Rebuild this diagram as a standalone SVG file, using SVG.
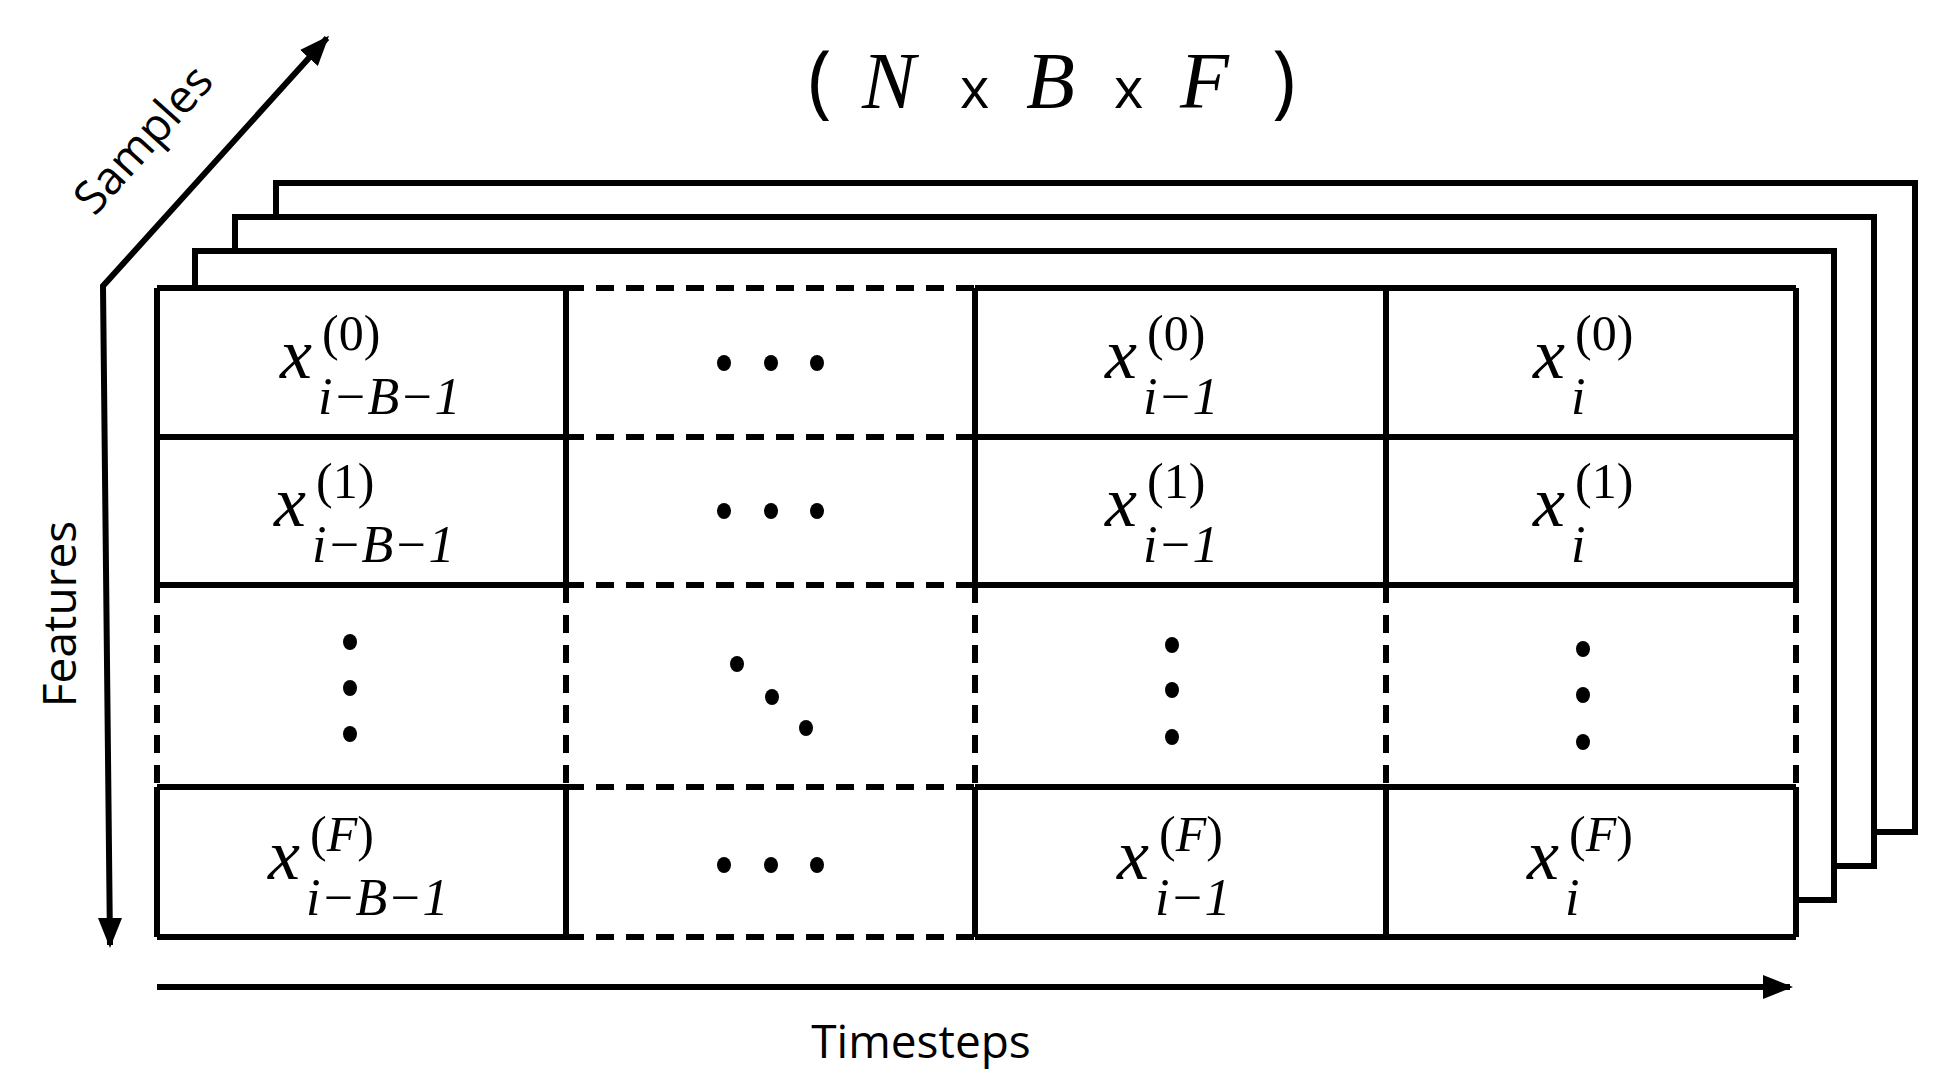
<svg xmlns="http://www.w3.org/2000/svg" width="1942" height="1083" viewBox="0 0 1942 1083">
<style>
.s{stroke:#000;stroke-width:6;fill:none}
.d{stroke:#000;stroke-width:6;fill:none;stroke-dasharray:18 12}
.f{stroke:#000;stroke-width:6;fill:#fff}
.lab{font-family:"Open Sans","Liberation Sans",sans-serif;font-size:46px;fill:#000}
.m{font-family:"Liberation Serif",serif;font-style:italic;font-size:72px;fill:#000}
.sup{font-size:50px;font-style:normal}
.sub{font-size:52px}
.dot{fill:#000}
.tp{font-family:"Open Sans",sans-serif}
.tx{font-family:"Open Sans",sans-serif;font-size:56px}
.ti{font-style:italic}
</style>
<defs>
<marker id="ah" viewBox="0 0 10 10" refX="9" refY="5" markerWidth="5" markerHeight="5" orient="auto" markerUnits="strokeWidth"><path d="M0,1 L10,5 L0,9 Z" fill="#000"/></marker>
</defs>
<g id="title"><text y="108" font-family="Liberation Serif,serif" font-size="80"><tspan class="tp" x="808">(</tspan><tspan class="ti" x="862">N</tspan><tspan class="tx" x="960">x</tspan><tspan class="ti" x="1026">B</tspan><tspan class="tx" x="1114">x</tspan><tspan class="ti" x="1180">F</tspan><tspan class="tp" x="1272">)</tspan></text></g>
<g id="frames">
<rect class="f" x="276" y="183" width="1639" height="649"/>
<rect class="f" x="235" y="217" width="1639" height="649"/>
<rect class="f" x="195" y="251" width="1639" height="649"/>
<rect x="157" y="288" width="1639" height="649" fill="#fff"/>
</g>
<g id="grid">
<path class="s" d="M157,288H566M975,288H1796M157,437H566M975,437H1796M157,585H566M975,585H1796M157,787H566M975,787H1796M157,937H566M975,937H1796"/>
<path class="d" d="M566,288H975M566,437H975M566,585H975M566,787H975M566,937H975"/>
<path class="s" d="M157,288V585M566,288V585M975,288V585M1386,288V585M1796,288V585M157,787V937M566,787V937M975,787V937M1386,787V937M1796,787V937"/>
<path class="d" d="M157,585V787M566,585V787M975,585V787M1386,585V787M1796,585V787"/>
</g>
<g id="cells" class="m">
<text x="280" y="378">x<tspan class="sup" x="322" y="350">(0)</tspan><tspan class="sub" x="318" y="414">i−B−1</tspan></text>
<text x="274" y="526">x<tspan class="sup" x="316" y="498">(1)</tspan><tspan class="sub" x="312" y="562">i−B−1</tspan></text>
<text x="268" y="879">x<tspan class="sup" x="310" y="851">(<tspan font-style="italic">F</tspan>)</tspan><tspan class="sub" x="306" y="915">i−B−1</tspan></text>
<text x="1105" y="378">x<tspan class="sup" x="1147" y="350">(0)</tspan><tspan class="sub" x="1143" y="414">i−1</tspan></text>
<text x="1105" y="526">x<tspan class="sup" x="1147" y="498">(1)</tspan><tspan class="sub" x="1143" y="562">i−1</tspan></text>
<text x="1117" y="879">x<tspan class="sup" x="1159" y="851">(<tspan font-style="italic">F</tspan>)</tspan><tspan class="sub" x="1155" y="915">i−1</tspan></text>
<text x="1533" y="378">x<tspan class="sup" x="1575" y="350">(0)</tspan><tspan class="sub" x="1571" y="414">i</tspan></text>
<text x="1533" y="526">x<tspan class="sup" x="1575" y="498">(1)</tspan><tspan class="sub" x="1571" y="562">i</tspan></text>
<text x="1527" y="879">x<tspan class="sup" x="1569" y="851">(<tspan font-style="italic">F</tspan>)</tspan><tspan class="sub" x="1565" y="915">i</tspan></text>
</g>
<g id="dots" class="dot">
<ellipse cx="724" cy="363" rx="7" ry="8"/><ellipse cx="771" cy="363" rx="7" ry="8"/><ellipse cx="817" cy="363" rx="7" ry="8"/>
<ellipse cx="724" cy="511" rx="7" ry="8"/><ellipse cx="771" cy="511" rx="7" ry="8"/><ellipse cx="817" cy="511" rx="7" ry="8"/>
<ellipse cx="724" cy="865" rx="7" ry="8"/><ellipse cx="771" cy="865" rx="7" ry="8"/><ellipse cx="817" cy="865" rx="7" ry="8"/>
<ellipse cx="350" cy="642" rx="7" ry="8"/><ellipse cx="350" cy="688" rx="7" ry="8"/><ellipse cx="350" cy="734" rx="7" ry="8"/>
<ellipse cx="737" cy="664" rx="7" ry="8"/><ellipse cx="772" cy="697" rx="7" ry="8"/><ellipse cx="806" cy="728" rx="7" ry="8"/>
<ellipse cx="1172" cy="645" rx="7" ry="8"/><ellipse cx="1172" cy="690" rx="7" ry="8"/><ellipse cx="1172" cy="737" rx="7" ry="8"/>
<ellipse cx="1583" cy="649" rx="7" ry="8"/><ellipse cx="1583" cy="695" rx="7" ry="8"/><ellipse cx="1583" cy="742" rx="7" ry="8"/>
</g>
<g id="connectors">
<path class="s" d="M110,945 L103,286 L327,38" marker-end="url(#ah)"/>
<path class="s" d="M110,920 L110,945" marker-end="url(#ah)"/>
<path class="s" d="M157,987 H1790" marker-end="url(#ah)"/>
</g>
<g id="labels">
<text class="lab" transform="translate(155,150) rotate(-48)" text-anchor="middle">Samples</text>
<text class="lab" transform="translate(76,614) rotate(-90)" text-anchor="middle">Features</text>
<text class="lab" x="921" y="1058" text-anchor="middle">Timesteps</text>
</g>
</svg>
